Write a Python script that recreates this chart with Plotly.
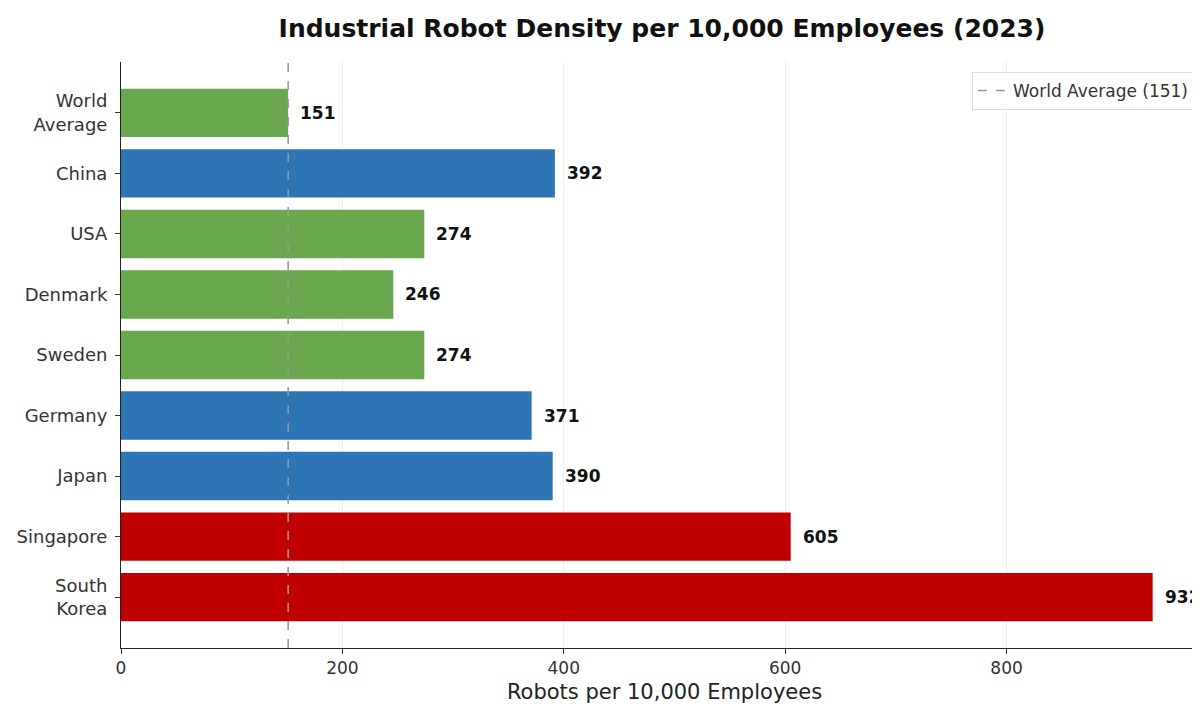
import plotly.graph_objects as go

countries = ["World<br>Average", "China", "USA", "Denmark", "Sweden", "Germany", "Japan", "Singapore", "South<br>Korea"]
density = [151, 392, 274, 246, 274, 371, 390, 605, 932]
groups = ["avg", "high", "mid", "mid", "mid", "high", "high", "top", "top"]
group_colors = {"avg": "#6aa84f", "mid": "#6aa84f", "high": "#2e75b6", "top": "#c00000"}
world_avg = 151
x_ticks = [0, 200, 400, 600, 800]

# categories placed top-to-bottom
y_pos = list(range(len(countries)))[::-1]

fig = go.Figure()
fig.add_trace(go.Bar(
    x=density, y=y_pos, orientation="h", width=0.8,
    marker=dict(color=[group_colors[g] for g in groups], line=dict(width=0)),
    showlegend=False, hoverinfo="x",
))
fig.add_trace(go.Scatter(
    x=[world_avg, world_avg], y=[0, 1], yaxis="y2", mode="lines",
    line=dict(color="#999999", width=1.6, dash="dash"),
    name=f"World Average ({world_avg})", showlegend=True,
))

for v, yp in zip(density, y_pos):
    fig.add_annotation(x=v, y=yp, text=f"<b>{v}</b>", showarrow=False,
                       xanchor="left", xshift=10, yshift=0,
                       font=dict(family="DejaVu Sans", size=17, color="#111111"))

fig.update_layout(
    width=1200, height=706,
    margin=dict(l=113, r=0, t=54, b=66),
    paper_bgcolor="white", plot_bgcolor="white",
    title=dict(text="<b>Industrial Robot Density per 10,000 Employees (2023)</b>",
               x=0.545, xanchor="center", y=0.972, yanchor="middle",
               font=dict(family="DejaVu Sans", size=25, color="#111111")),
    xaxis=dict(range=[0, 982], tickvals=x_ticks, ticks="outside", ticklen=5,
               tickcolor="#333333", showline=True, linecolor="#222222", linewidth=1,
               showgrid=True, gridcolor="#eeeeee", gridwidth=1, zeroline=False,
               tickfont=dict(family="DejaVu Sans", size=17, color="#333333"),
               title=dict(text="Robots per 10,000 Employees", standoff=6,
                          font=dict(family="DejaVu Sans", size=21, color="#222222"))),
    yaxis=dict(range=[-0.84, 8.84], tickvals=y_pos, ticktext=countries,
               ticks="outside", ticklen=5, tickcolor="#333333",
               showline=True, linecolor="#222222", linewidth=1,
               showgrid=False, zeroline=False, ticklabelstandoff=4,
               tickfont=dict(family="DejaVu Sans", size=18, color="#333333")),
    yaxis2=dict(overlaying="y", range=[0, 1], visible=False),
    legend=dict(x=0.988, y=0.983, xanchor="right", yanchor="top",
                bordercolor="#dddddd", borderwidth=1, bgcolor="rgba(255,255,255,0.9)",
                font=dict(family="DejaVu Sans", size=17, color="#333333")),
)
fig.write_html("out.html")
